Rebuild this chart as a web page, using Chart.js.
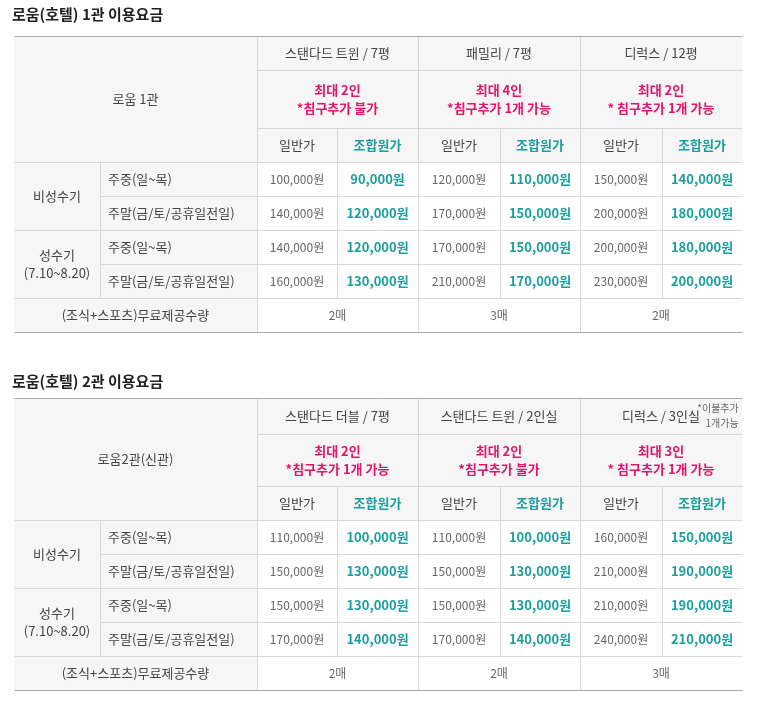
<!DOCTYPE html><html><head><meta charset="utf-8">
<script src="https://cdn.jsdelivr.net/npm/chart.js@4"></script>
<style>body{margin:0;background:#fff}</style></head><body>
<canvas id="c" width="773" height="701"></canvas>
<script>
const titles=["로움(호텔) 1관 이용요금","로움(호텔) 2관 이용요금"];
const corner=["로움 1관","로움2관(신관)"];
const roomTypes=[["스탠다드 트윈 / 7평","패밀리 / 7평","디럭스 / 12평"],["스탠다드 더블 / 7평","스탠다드 트윈 / 2인실","디럭스 / 3인실"]];
const capacity=[[["최대 2인","*침구추가 불가"],["최대 4인","*침구추가 1개 가능"],["최대 2인","* 침구추가 1개 가능"]],[["최대 2인","*침구추가 1개 가능"],["최대 2인","*침구추가 불가"],["최대 3인","* 침구추가 1개 가능"]]];
const seasons=[["비성수기"],["성수기","(7.10~8.20)"]];
const dayTypes=["주중(일~목)","주말(금/토/공휴일전일)"];
const normalPrices=[[[100000,120000,150000],[140000,170000,200000],[140000,170000,200000],[160000,210000,230000]],[[110000,110000,160000],[150000,150000,210000],[150000,150000,210000],[170000,170000,240000]]];
const memberPrices=[[[90000,110000,140000],[120000,150000,180000],[120000,150000,180000],[130000,170000,200000]],[[100000,100000,150000],[130000,130000,190000],[130000,130000,190000],[140000,140000,210000]]];
const tickets=[["2매","3매","2매"],["2매","2매","3매"]];
const F='"Noto Sans CJK KR","Noto Sans",sans-serif';
const fmt=v=>v.toLocaleString('en-US')+'원';
const tablePlugin={id:'tbl',afterDraw(chart){
 const g=chart.ctx;const X=[14,100,257,337,418,500,580,662,742];
 const layouts=[{t:14,y:[36,70,128,162,196,230,264,298,332]},{t:381,y:[398,434,486,520,554,588,622,656,690]}];
 layouts.forEach((L,k)=>{const Y=L.y;
  g.fillStyle='#222';g.font='bold 15px '+F;g.textBaseline='middle';g.textAlign='left';g.fillText(titles[k],12,L.t);
  g.fillStyle='#f6f6f6';g.fillRect(X[0],Y[0],X[8]-X[0],Y[3]-Y[0]);
  g.fillRect(X[0],Y[3],X[2]-X[0],Y[8]-Y[3]);
  g.strokeStyle='#d8d8d8';g.lineWidth=1;
  const line=(a,b,c,d)=>{g.beginPath();g.moveTo(a+.5,b+.5);g.lineTo(c+.5,d+.5);g.stroke();};
  for(let r=1;r<=8;r++){let x0=X[0];if(r==1||r==2)x0=X[2];if(r==4||r==6)x0=X[1];line(x0,Y[r],X[8],Y[r]);}
  line(X[1],Y[3],X[1],Y[7]);line(X[2],Y[0],X[2],Y[8]);
  [4,6].forEach(c=>line(X[c],Y[0],X[c],Y[8]));
  [3,5,7].forEach(c=>line(X[c],Y[2],X[c],Y[7]));
  g.strokeStyle='#aaa';line(X[0],Y[0],X[8],Y[0]);line(X[0],Y[8],X[8],Y[8]);
  g.textAlign='center';
  const T=(s,x,y,col,f)=>{g.fillStyle=col;g.font=f;g.fillText(s,x,y);};
  T(corner[k],(X[0]+X[2])/2,(Y[0]+Y[3])/2,'#444','13px '+F);
  for(let i=0;i<3;i++){const a=X[2+2*i],b=X[4+2*i],m=(a+b)/2;
   T(roomTypes[k][i],m,(Y[0]+Y[1])/2,'#444','13px '+F);
   const cy=(Y[1]+Y[2])/2;T(capacity[k][i][0],m,cy-9,'#e2156b','bold 13px '+F);T(capacity[k][i][1],m,cy+9,'#e2156b','bold 13px '+F);
   T('일반가',(a+X[3+2*i])/2,(Y[2]+Y[3])/2,'#444','13px '+F);
   T('조합원가',(X[3+2*i]+b)/2,(Y[2]+Y[3])/2,'#1a9e9e','bold 13px '+F);
   for(let r=0;r<4;r++){const cy2=(Y[3+r]+Y[4+r])/2;
    T(fmt(normalPrices[k][r][i]),(a+X[3+2*i])/2,cy2,'#666','12px '+F);
    T(fmt(memberPrices[k][r][i]),(X[3+2*i]+b)/2,cy2,'#1a9e9e','bold 13px '+F);}
   T(tickets[k][i],m,(Y[7]+Y[8])/2,'#666','12px '+F);}
  seasons.forEach((s,j)=>{const cy=(Y[3+2*j]+Y[5+2*j])/2;
   if(s.length==1)T(s[0],(X[0]+X[1])/2,cy,'#444','13px '+F);else{T(s[0],(X[0]+X[1])/2,cy-9,'#444','13px '+F);T(s[1],(X[0]+X[1])/2,cy+9,'#444','13px '+F);}
   dayTypes.forEach((d,q)=>{g.textAlign='left';T(d,X[1]+8,(Y[3+2*j+q]+Y[4+2*j+q])/2,'#444','13px '+F);g.textAlign='center';});});
  T('(조식+스포츠)무료제공수량',(X[0]+X[2])/2,(Y[7]+Y[8])/2,'#444','13px '+F);
  if(k==1){T('*이불추가',718,Y[0]+10,'#666','10px '+F);T('1개가능',722,Y[0]+25,'#666','10px '+F);}
 });}};
new Chart(document.getElementById('c'),{type:'bar',data:{labels:[],datasets:[]},
 options:{responsive:false,animation:false,plugins:{legend:{display:false},tooltip:{enabled:false}},scales:{x:{display:false},y:{display:false}}},
 plugins:[tablePlugin]});
</script></body></html>
